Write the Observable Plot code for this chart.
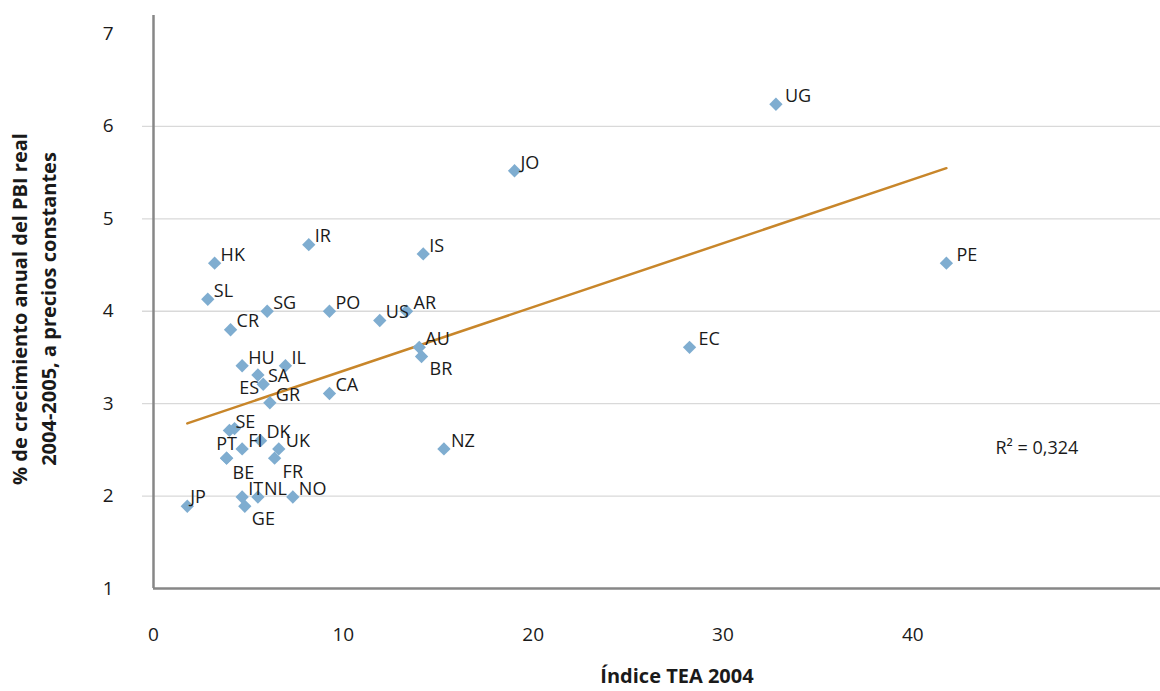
<!DOCTYPE html>
<html><head><meta charset="utf-8">
<script src="https://cdn.jsdelivr.net/npm/d3@7"></script>
<script src="https://cdn.jsdelivr.net/npm/@observablehq/plot@0.6"></script>
<style>
html,body{margin:0;padding:0;background:#fff;}
#chart svg{display:block;}
</style></head><body><div id="chart"></div>
<script>
// ---- data ----
const countries = ["HK","SL","IR","IS","SG","PO","US","AR","CR","AU","BR","HU","IL","SA","ES","GR","CA","SE","","PT","BE","FI","DK","UK","FR","IT","NL","NO","GE","JP","NZ","JO","UG","EC","PE"];
const teaIndex  = [3.22,2.86,8.18,14.21,5.99,9.27,11.92,13.33,4.06,14.00,14.12,4.67,6.95,5.50,5.78,6.13,9.27,4.00,4.27,3.85,3.85,4.67,5.64,6.60,6.38,4.67,5.50,7.34,4.81,1.78,15.30,19.02,32.79,28.24,41.77];
const gdpGrowth = [4.52,4.13,4.72,4.62,4.00,4.00,3.90,4.00,3.80,3.61,3.51,3.41,3.41,3.31,3.21,3.01,3.11,2.71,2.73,2.41,2.41,2.51,2.60,2.51,2.41,1.99,1.99,1.99,1.89,1.89,2.51,5.52,6.24,3.61,4.52];
const xTicks = [0,10,20,30,40];
const yTicks = [1,2,3,4,5,6,7];
const gridValues = [2,3,4,5,6];
const rSquaredText = "R² = 0,324";
const xTitle = "Índice TEA 2004";
const yTitle = "% de crecimiento anual del PBI real\n2004-2005, a precios constantes";

// ---- label placement (style only) ----
const defaultPlacement = {dx: 6, dy: -8, textAnchor: "start"};
const labelPlacement = {
  BR: {dx: 8, dy: 13}, SA: {dx: 10, dy: 1}, ES: {dx: -4, dy: 4, textAnchor: "end"},
  PT: {dx: 0, dy: -14, textAnchor: "middle"}, FR: {dx: 8, dy: 14}, BE: {dx: 6, dy: 15},
  GE: {dx: 7, dy: 13}, JP: {dx: 3, dy: -9}, UG: {dx: 9}, PE: {dx: 10}, EC: {dx: 9},
  NZ: {dx: 7}, UK: {dx: 7}, AR: {dx: 7}
};

const points = countries.map((c, i) => ({code: c, tea: teaIndex[i], gdp: gdpGrowth[i]}));

const font = "'Open Sans', 'Noto Sans', sans-serif";
const ink = "#1a1a1a";

const labelMarks = points.filter(p => p.code !== "").map(p => {
  const pl = {...defaultPlacement, ...(labelPlacement[p.code] || {})};
  return Plot.text([p], {x: "tea", y: "gdp", text: "code", dx: pl.dx, dy: pl.dy,
    textAnchor: pl.textAnchor, fontSize: 18, fill: ink});
});

const chart = Plot.plot({
  width: 1160, height: 691,
  marginLeft: 153, marginRight: 0, marginTop: 15, marginBottom: 103,
  style: {fontFamily: font, fontSize: "18px", color: ink, background: "#fff", overflow: "visible"},
  x: {domain: [0, 53.05]},
  y: {domain: [1, 7.2]},
  marks: [
    Plot.ruleY(gridValues, {stroke: "#d9d9d9", strokeWidth: 1.3, insetLeft: -11}),
    Plot.axisX(xTicks, {tickSize: 0, tickPadding: 39, fontSize: 19, label: null, fill: ink, tickFormat: d => String(d)}),
    Plot.axisY(yTicks, {tickSize: 0, tickPadding: 40, fontSize: 19, label: null, fill: ink, tickFormat: d => String(d)}),
    Plot.ruleX([0], {stroke: "#878787", strokeWidth: 2.5}),
    Plot.ruleY([1], {stroke: "#878787", strokeWidth: 2.5}),
    Plot.linearRegressionY(points, {x: "tea", y: "gdp", stroke: "#c8862a", strokeWidth: 2.5, ci: 0}),
    Plot.dot(points, {x: "tea", y: "gdp", symbol: "diamond2", r: 6, fill: "#7fadd0", stroke: null}),
    ...labelMarks,
    Plot.text([rSquaredText], {frameAnchor: "right", dx: -165, dy: 146, textAnchor: "start", fontSize: 18, fill: ink}),
    Plot.text([xTitle], {frameAnchor: "bottom", dx: 20, dy: 94, fontSize: 20, fontWeight: "bold", fill: ink}),
    Plot.text([yTitle], {frameAnchor: "left", textAnchor: "middle", rotate: -90, dx: -121, dy: 7, fontSize: 20, fontWeight: "bold", lineHeight: 1.45, fill: ink})
  ]
});
document.getElementById("chart").appendChild(chart);
</script>
</body></html>
